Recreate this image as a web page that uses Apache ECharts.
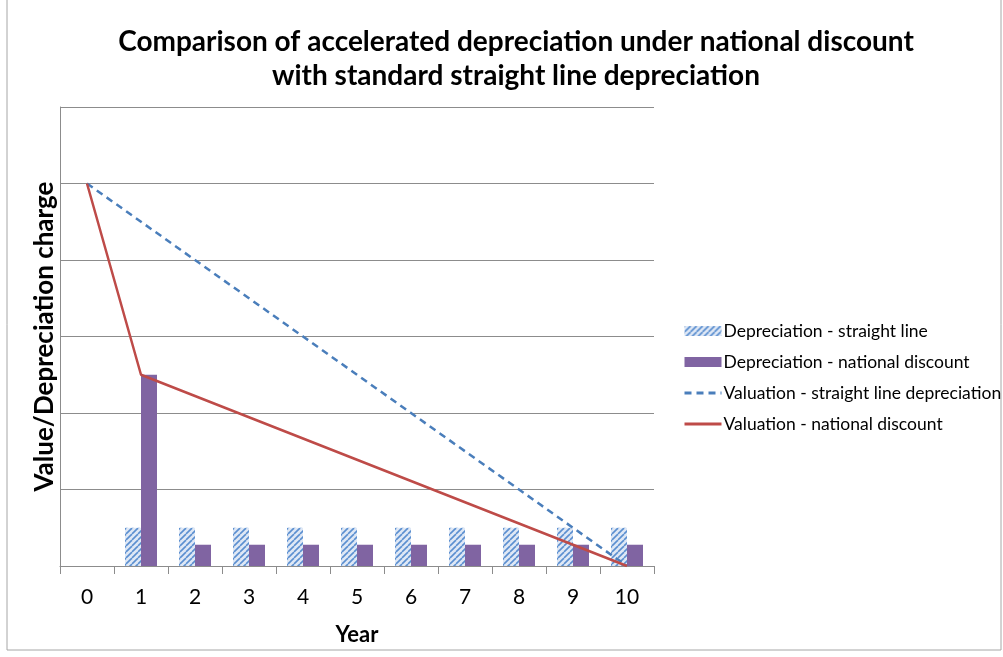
<!DOCTYPE html>
<html><head><meta charset="utf-8">
<script src="https://cdn.jsdelivr.net/npm/echarts@6/dist/echarts.min.js"></script>
<style>html,body{margin:0;padding:0;background:#fff}#c{width:1003px;height:657px}</style>
</head><body><div id="c"></div>
<script>
const years = ['0','1','2','3','4','5','6','7','8','9','10'];
const depStraight = ['-',10,10,10,10,10,10,10,10,10,10];
const depNational = ['-',50,5.56,5.56,5.56,5.56,5.56,5.56,5.56,5.56,5.56];
const valStraight = [100,90,80,70,60,50,40,30,20,10,0];
const valNational = [100,50,44.44,38.89,33.33,27.78,22.22,16.67,11.11,5.56,0];
const seriesNames = ['Depreciation - straight line','Depreciation - national discount','Valuation - straight line depreciation','Valuation - national discount'];

const pc = document.createElement('canvas');
pc.width = 6; pc.height = 6;
const g = pc.getContext('2d');
g.fillStyle = '#dfe8f5'; g.fillRect(0,0,6,6);
g.strokeStyle = '#5b8fd0'; g.lineWidth = 1.6;
for (let k=-6;k<=12;k+=6){ g.beginPath(); g.moveTo(k,6); g.lineTo(k+6,0); g.stroke(); }

const chart = echarts.init(document.getElementById('c'), null, {renderer:'canvas'});
const font = 'Lato, "Open Sans", sans-serif';
chart.setOption({
  animation:false,
  textStyle:{fontFamily:font},
  graphic:[{type:'rect',shape:{x:7,y:-2,width:994,height:652},style:{fill:'none',stroke:'#a6a6a6',lineWidth:1},silent:true}],
  title:{text:'Comparison of accelerated depreciation under national discount\nwith standard straight line depreciation',left:511,top:20,textAlign:'center',
    textStyle:{fontFamily:font,fontSize:28,fontWeight:'bold',color:'#000',lineHeight:34}},
  legend:{orient:'vertical',left:678,top:317,itemGap:13,itemWidth:37,itemHeight:10,
    textStyle:{fontFamily:font,fontSize:17.5,color:'#000',padding:[0,0,0,-3]},
    data:[{name:seriesNames[0],icon:'rect'},{name:seriesNames[1],icon:'rect'},
      {name:seriesNames[2],itemStyle:{opacity:0},lineStyle:{width:3,type:[7,5]}},
      {name:seriesNames[3],itemStyle:{opacity:0},lineStyle:{width:3}}]},
  grid:{left:60,top:107,width:594,height:459,containLabel:false},
  xAxis:{type:'category',data:years,boundaryGap:true,name:'Year',nameLocation:'middle',nameGap:58,
    nameTextStyle:{fontFamily:font,fontSize:22,fontWeight:'bold',color:'#000'},
    axisLine:{lineStyle:{color:'#8c8c8c',width:1}},
    axisTick:{show:true,length:8,lineStyle:{color:'#8c8c8c'},alignWithLabel:false},
    axisLabel:{fontFamily:font,fontSize:21,color:'#000',margin:21}},
  yAxis:{type:'value',min:0,max:120,interval:20,name:'Value/Depreciation charge',nameLocation:'middle',nameGap:2,nameRotate:90,
    nameTextStyle:{fontFamily:font,fontSize:26,fontWeight:'bold',color:'#000'},
    axisLine:{show:true,lineStyle:{color:'#8c8c8c'}},axisTick:{show:false},axisLabel:{show:false},
    splitLine:{lineStyle:{color:'#8c8c8c',width:1}}},
  series:[
    {name:seriesNames[0],type:'bar',data:depStraight,barWidth:16,barGap:'0%',
      itemStyle:{color:{image:pc,repeat:'repeat'}}},
    {name:seriesNames[1],type:'bar',data:depNational,barWidth:16,
      itemStyle:{color:'#8064a2'}},
    {name:seriesNames[2],type:'line',data:valStraight,symbol:'none',
      lineStyle:{color:'#4a7ebb',width:2.5,type:[7,5]},itemStyle:{color:'#4a7ebb'}},
    {name:seriesNames[3],type:'line',data:valNational,symbol:'none',
      lineStyle:{color:'#be4b48',width:2.5},itemStyle:{color:'#be4b48'}}
  ]
});
</script></body></html>
